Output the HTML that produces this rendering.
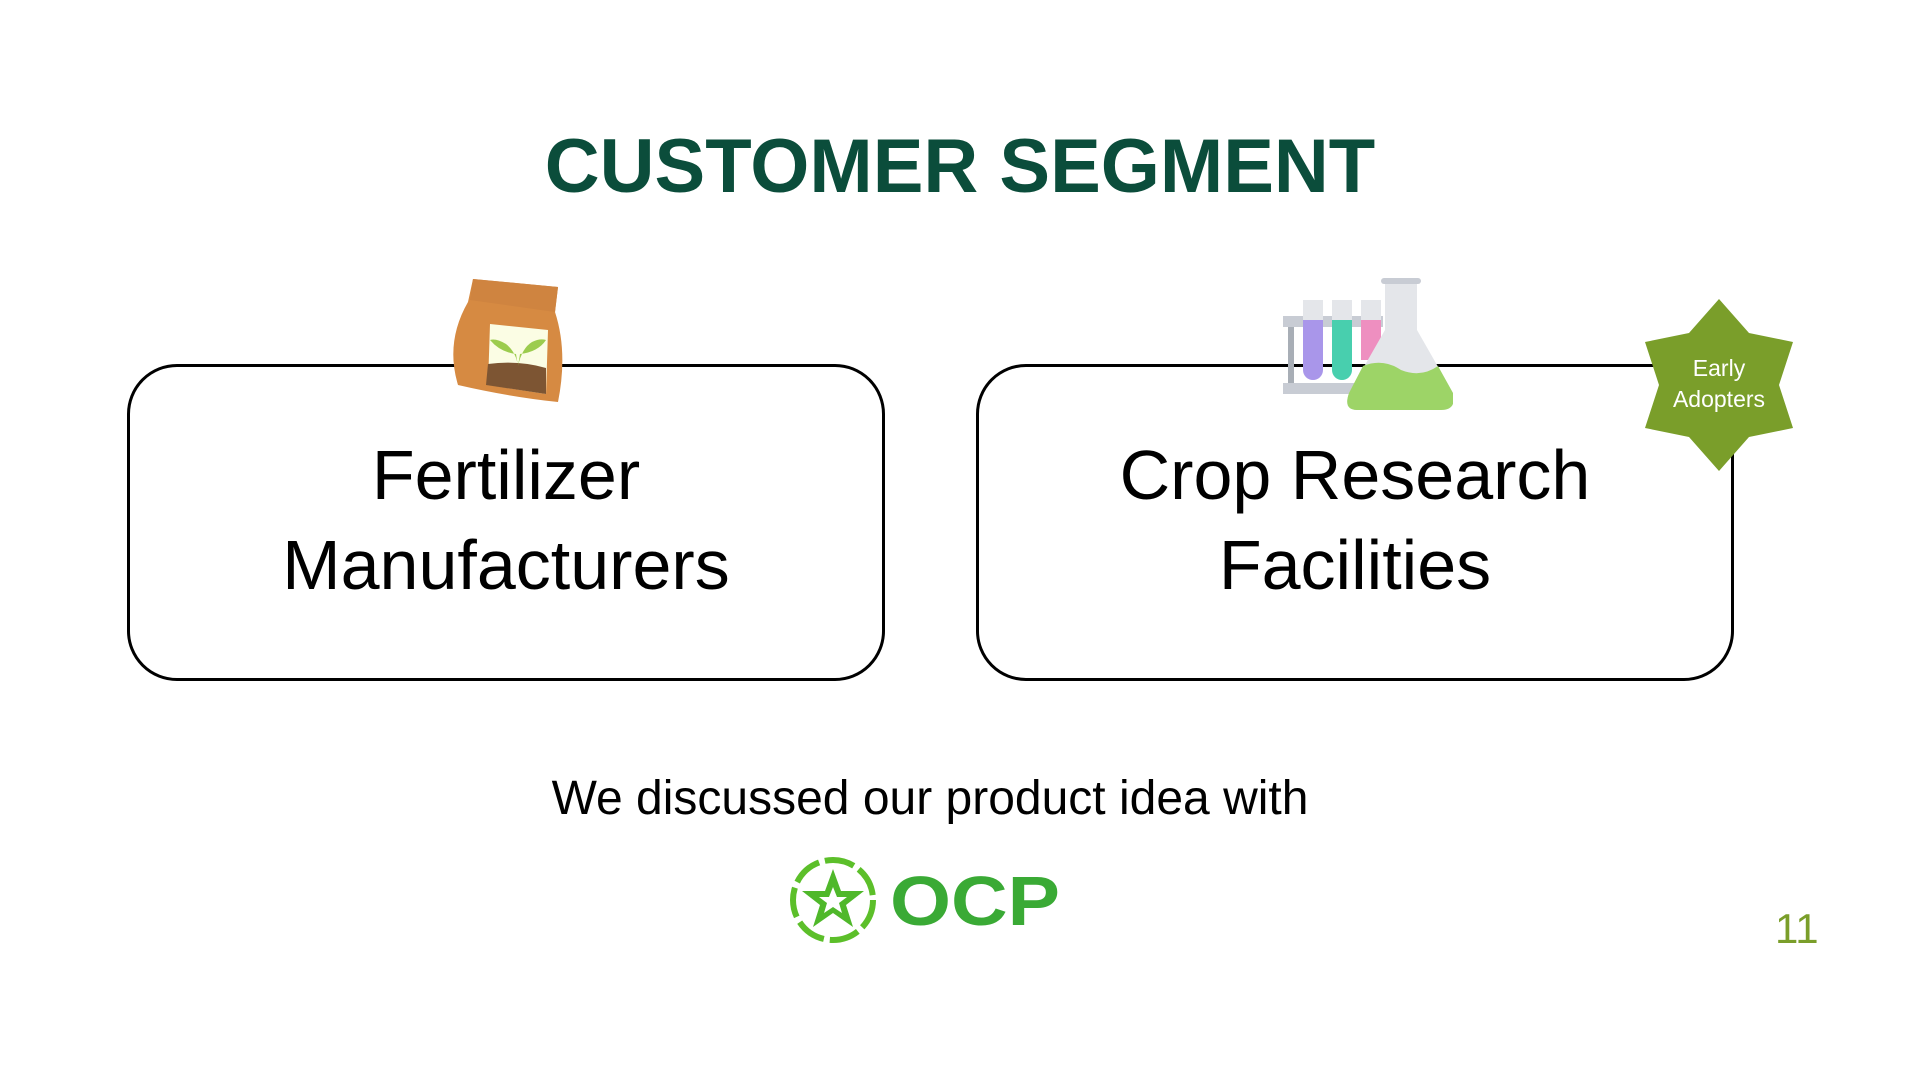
<!DOCTYPE html>
<html><head><meta charset="utf-8"><style>
html,body{margin:0;padding:0}
body{width:1920px;height:1080px;position:relative;background:#fff;font-family:"Liberation Sans",sans-serif;overflow:hidden}
.abs{position:absolute}
.box{position:absolute;border:3.5px solid #000;border-radius:50px;box-sizing:border-box;top:364px;height:317px}
.lbl{position:absolute;left:0;width:100%;text-align:center;font-size:70px;line-height:90px;color:#000;top:63px}
</style></head><body>
<div class="abs" style="left:0;width:1920px;top:122px;text-align:center;font-size:76px;font-weight:bold;color:#0b4d3b;line-height:90px">CUSTOMER SEGMENT</div>

<div class="box" style="left:127px;width:758px">
 <div class="lbl">Fertilizer<br>Manufacturers</div>
</div>
<div class="box" style="left:976px;width:758px">
 <div class="lbl">Crop Research<br>Facilities</div>
</div>

<svg class="abs" style="left:440px;top:272px" width="130" height="140" viewBox="0 0 130 140">
 <path d="M33 7 L118 15 L115 40 Q128 80 118 130 Q70 125 18 113 Q5 70 28 30 Z" fill="#d68a42"/>
 <path d="M33 7 L118 15 L115 40 L30 28 Z" fill="#cf8440"/>
 <path d="M50 52 L108 58 L106 122 L48 113 Z" fill="#fbfde4"/>
 <path d="M48 92 Q78 88 106 96 L106 122 L46 113 Z" fill="#7d5533"/>
 <path d="M78 94 Q76 80 66 72 Q56 66 50 68 Q60 80 76 82 M78 94 Q82 76 92 70 Q100 66 106 68 Q98 80 80 82" fill="#9ccc4e"/>
</svg>

<svg class="abs" style="left:1283px;top:278px" width="170" height="135" viewBox="0 0 170 135">
 <rect x="0" y="38" width="100" height="11" fill="#c8ccd4"/>
 <rect x="5" y="49" width="6" height="60" fill="#a8aeb6"/>
 <rect x="0" y="105" width="100" height="11" fill="#c8ccd4"/>
 <rect x="20" y="22" width="20" height="80" rx="10" fill="#a996ea"/>
 <rect x="20" y="22" width="20" height="20" fill="#e4e6ea"/>
 <rect x="49" y="22" width="20" height="80" rx="10" fill="#48cfae"/>
 <rect x="49" y="22" width="20" height="20" fill="#e4e6ea"/>
 <rect x="78" y="22" width="20" height="60" fill="#ee8fc0"/>
 <rect x="78" y="22" width="20" height="20" fill="#e4e6ea"/>
 <path d="M102 2 L134 2 L134 52 L170 115 Q174 132 158 132 L74 132 Q60 132 66 115 L102 52 Z" fill="#e4e6ea"/>
 <path d="M80 88 Q100 80 118 92 Q138 100 155 88 L170 115 Q174 132 158 132 L74 132 Q60 132 66 115 Z" fill="#9dd467"/>
 <rect x="98" y="0" width="40" height="6" rx="3" fill="#c8ccd4"/>
</svg>

<svg class="abs" style="left:1633px;top:299px" width="172" height="172" viewBox="0 0 172 172">
 <polygon points="86,0 116,34 160,43 146,86 160,129 116,138 86,172 56,138 12,129 26,86 12,43 56,34" fill="#7a9e2a"/>
 <text x="86" y="77" text-anchor="middle" font-family="Liberation Sans, sans-serif" font-size="23" fill="#fff">Early</text>
 <text x="86" y="108" text-anchor="middle" font-family="Liberation Sans, sans-serif" font-size="23" fill="#fff">Adopters</text>
</svg>

<div class="abs" style="left:0;width:1860px;top:771px;text-align:center;font-size:48px;line-height:56px;color:#000">We discussed our product idea with</div>

<svg class="abs" style="left:787px;top:855px" width="280" height="90" viewBox="0 0 280 90">
 <circle cx="46" cy="45" r="40" fill="none" stroke="#5cbf2a" stroke-width="6" stroke-dasharray="30 6"/>
 <polygon points="46,14 54,36 77,36 59,50 66,72 46,58 26,72 33,50 15,36 38,36" fill="#4fb82a"/>
 <polygon points="46,32 50,42 60,42 52,48 55,58 46,52 37,58 40,48 32,42 42,42" fill="#fff"/>
 <text x="103" y="70" font-family="Liberation Sans, sans-serif" font-weight="bold" font-size="70" fill="#3aaa35" textLength="170" lengthAdjust="spacingAndGlyphs">OCP</text>
</svg>

<div class="abs" style="left:1775px;top:906px;font-size:42px;line-height:46px;color:#7a9e2a">11</div>
</body></html>
